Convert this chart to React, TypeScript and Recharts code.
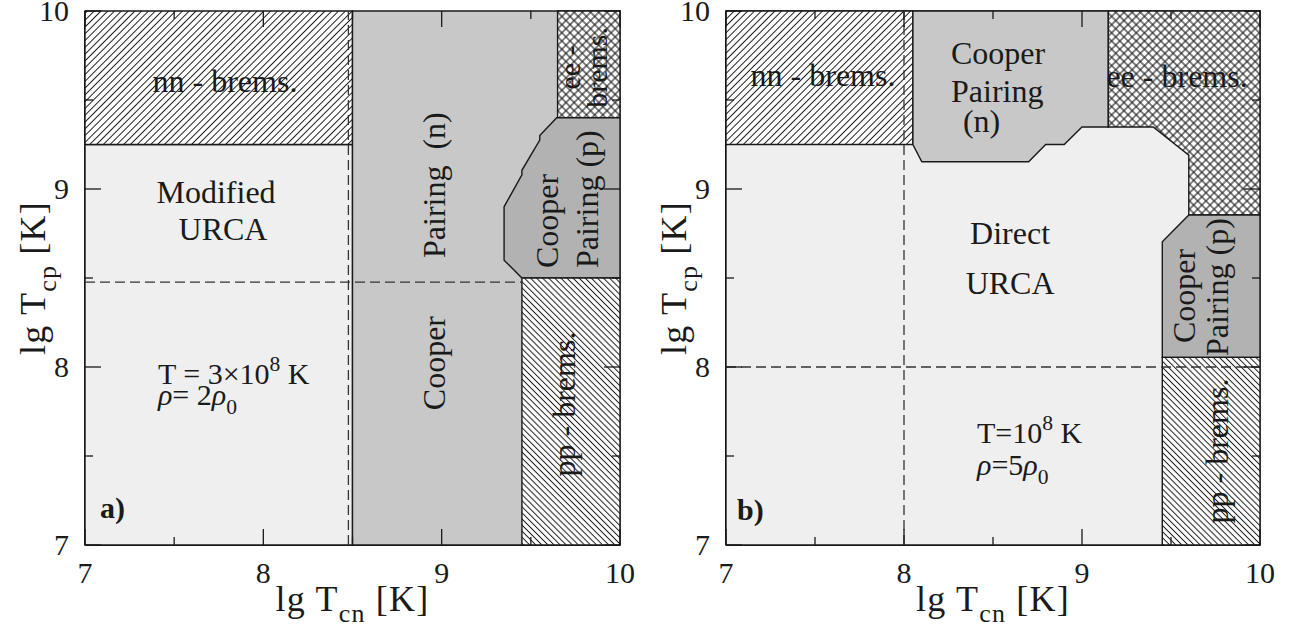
import React from 'react';
import { Scatter, ScatterChart, XAxis, YAxis } from 'recharts';

type Pt = [number, number];
type Note = {
  x: number;
  y: number;
  text: string;
  rot?: number;
  anchor?: 'start' | 'middle' | 'end';
  size?: number;
  bold?: boolean;
};

// axis range and ticks (lg T, K)
const LO = 7;
const HI = 10;
const MAJOR_TICKS = [7, 8, 9, 10];
const MINOR_TICKS = [7.5, 8.5, 9.5];

// panel a) T = 3e8 K, rho = 2 rho0 : region outlines in (lg Tcn, lg Tcp)
const A_URCA: Pt[] = [[7, 7], [8.5, 7], [8.5, 9.25], [7, 9.25]];
const A_NN_BREMS: Pt[] = [[7, 9.25], [8.5, 9.25], [8.5, 10], [7, 10]];
const A_COOPER_N: Pt[] = [[8.5, 7], [10, 7], [10, 10], [8.5, 10]];
const A_EE_BREMS: Pt[] = [[9.65, 9.4], [10, 9.4], [10, 10], [9.65, 10]];
const A_COOPER_P: Pt[] = [
  [9.45, 8.5], [10, 8.5], [10, 9.4], [9.645, 9.4], [9.55, 9.3], [9.55, 9.275],
  [9.45, 9.105], [9.45, 9.08], [9.35, 8.9], [9.35, 8.6],
];
const A_PP_BREMS: Pt[] = [[9.45, 7], [10, 7], [10, 8.5], [9.45, 8.5]];
const A_DASH_N: Pt[] = [[8.477, 7], [8.477, 10]];
const A_DASH_P: Pt[] = [[7, 8.477], [9.45, 8.477]];

// panel b) T = 1e8 K, rho = 5 rho0
const B_URCA: Pt[] = [[7, 7], [10, 7], [10, 10], [7, 10]];
const B_NN_BREMS: Pt[] = [[7, 9.25], [8.05, 9.25], [8.05, 10], [7, 10]];
const B_COOPER_N: Pt[] = [
  [8.05, 10], [8.05, 9.25], [8.1, 9.153], [8.7, 9.153], [8.796, 9.25],
  [8.9, 9.25], [9.0, 9.348], [9.148, 9.348], [9.148, 10],
];
const B_EE_BREMS: Pt[] = [
  [9.148, 10], [10, 10], [10, 8.854], [9.6, 8.854], [9.6, 9.19], [9.4, 9.348], [9.148, 9.348],
];
const B_COOPER_P: Pt[] = [[9.6, 8.854], [10, 8.854], [10, 8.054], [9.451, 8.054], [9.451, 8.704]];
const B_PP_BREMS: Pt[] = [[9.451, 7], [10, 7], [10, 8.054], [9.451, 8.054]];
const B_DASH_N: Pt[] = [[8, 7], [8, 10]];
const B_DASH_P: Pt[] = [[7, 8], [10, 8]];

const A_NOTES: Note[] = [
  { x: 7.785, y: 9.545, text: 'nn - brems.' },
  { x: 7.735, y: 8.921, text: 'Modified' },
  { x: 7.774, y: 8.713, text: 'URCA' },
  { x: 9.02, y: 9.022, text: 'Pairing  (n)', rot: -90 },
  { x: 9.02, y: 8.022, text: 'Cooper', rot: -90 },
  { x: 9.653, y: 8.556, text: 'Cooper', rot: -90, anchor: 'start' },
  { x: 9.877, y: 8.556, text: 'Pairing (p)', rot: -90, anchor: 'start' },
  { x: 9.776, y: 9.683, text: 'ee -', rot: -90, size: 30 },
  { x: 9.928, y: 9.683, text: 'brems.', rot: -90, size: 30 },
  { x: 9.748, y: 7.792, text: 'pp - brems.', rot: -90 },
  { x: 7.409, y: 7.904, text: 'T = 3×10^{8} K', anchor: 'start', size: 30 },
  { x: 7.409, y: 7.787, text: '*ρ*= 2*ρ*_{0}', anchor: 'start', size: 30 },
  { x: 7.084, y: 7.152, text: 'a)', anchor: 'start', size: 30, bold: true },
];

const B_NOTES: Note[] = [
  { x: 7.545, y: 9.579, text: 'nn - brems.' },
  { x: 8.264, y: 9.702, text: 'Cooper', anchor: 'start' },
  { x: 8.264, y: 9.489, text: 'Pairing', anchor: 'start' },
  { x: 8.331, y: 9.32, text: '(n)', anchor: 'start' },
  { x: 9.534, y: 9.573, text: 'ee - brems.' },
  { x: 8.596, y: 8.691, text: 'Direct' },
  { x: 8.596, y: 8.41, text: 'URCA' },
  { x: 9.635, y: 8.399, text: 'Cooper', rot: -90 },
  { x: 9.82, y: 8.449, text: 'Pairing (p)', rot: -90 },
  { x: 9.82, y: 7.528, text: 'pp - brems.', rot: -90 },
  { x: 8.41, y: 7.573, text: 'T=10^{8} K', anchor: 'start', size: 30 },
  { x: 8.41, y: 7.393, text: '*ρ*=5*ρ*_{0}', anchor: 'start', size: 30 },
  { x: 7.062, y: 7.14, text: 'b)', anchor: 'start', size: 30, bold: true },
];

const SERIF = '"Liberation Serif", "Times New Roman", serif';
const INK = '#1a1a1a';
const LIGHT = '#efefef';
const GREY_N = '#c8c8c8';
const GREY_P = '#b2b2b2';

const toXY = (pts: Pt[]) => pts.map(([x, y]) => ({ x, y }));
const hidden = () => <g />;

// tiny markup: ^{sup} _{sub} *italic*
function rich(src: string, size: number) {
  const tokens = src.split(/(\^\{[^}]*\}|_\{[^}]*\}|\*[^*]*\*)/).filter(Boolean);
  let shift = 0;
  return tokens.map((tok, i) => {
    let t = tok;
    let dy = -shift;
    let fs: number | undefined;
    let italic = false;
    if (tok.startsWith('^{')) {
      t = tok.slice(2, -1);
      dy = -0.42 * size - shift;
      shift = -0.42 * size;
      fs = 0.72 * size;
    } else if (tok.startsWith('_{')) {
      t = tok.slice(2, -1);
      dy = 0.3 * size - shift;
      shift = 0.3 * size;
      fs = 0.72 * size;
    } else {
      if (tok.startsWith('*')) {
        t = tok.slice(1, -1);
        italic = true;
      }
      shift = 0;
    }
    return (
      <tspan key={i} dy={dy || undefined} fontSize={fs} fontStyle={italic ? 'italic' : undefined}>
        {t}
      </tspan>
    );
  });
}

const NoteShape = (p: any) => {
  const n: Note = p.payload;
  const size = n.size ?? 32;
  return (
    <text
      x={p.cx}
      y={p.cy}
      transform={n.rot ? `rotate(${n.rot} ${p.cx} ${p.cy})` : undefined}
      textAnchor={n.anchor ?? 'middle'}
      fontFamily={SERIF}
      fontSize={size}
      fontWeight={n.bold ? 700 : 400}
      fill={INK}
      style={{ whiteSpace: 'pre' }}
    >
      {rich(n.text, size)}
    </text>
  );
};

const polygonLine = (fill: string) => (p: any) => (
  <polygon
    points={p.points.map((q: any) => `${q.x},${q.y}`).join(' ')}
    fill={fill}
    stroke={INK}
    strokeWidth={1.4}
  />
);

const dashLine = (p: any) => (
  <polyline
    points={p.points.map((q: any) => `${q.x},${q.y}`).join(' ')}
    fill="none"
    stroke="#333"
    strokeWidth={1.3}
    strokeDasharray="10 5"
  />
);

// inward tick marks, anchored at axis values on the frame
const tickMark = (dx: number, dy: number) => (p: any) => (
  <line x1={p.cx} y1={p.cy} x2={p.cx + dx} y2={p.cy + dy} stroke={INK} strokeWidth={1.3} />
);

const TICK_FONT = 30;

const xTick = (p: any) => (
  <text x={p.x} y={p.y} dy={0.71 * TICK_FONT} textAnchor="middle" fontFamily={SERIF} fontSize={TICK_FONT} fill={INK}>
    {p.payload.value}
  </text>
);

const yTick = (p: any) => (
  <text x={p.x} y={p.y} dy={0.34 * TICK_FONT} textAnchor="end" fontFamily={SERIF} fontSize={TICK_FONT} fill={INK}>
    {p.payload.value}
  </text>
);

const TITLE_FONT = 36;

const xTitle = (p: any) => {
  const vb = p.viewBox;
  return (
    <text x={vb.x + vb.width / 2} y={vb.y + 66} textAnchor="middle" fontFamily={SERIF} fontSize={TITLE_FONT}
      letterSpacing={1.2} fill={INK} style={{ whiteSpace: 'pre' }}>
      {rich('lg T_{cn} [K]', TITLE_FONT)}
    </text>
  );
};

const yTitle = (p: any) => {
  const vb = p.viewBox;
  const cx = vb.x + vb.width - 40;
  const cy = vb.y + vb.height / 2;
  return (
    <text x={cx} y={cy} transform={`rotate(-90 ${cx} ${cy})`} textAnchor="middle" fontFamily={SERIF} fontSize={TITLE_FONT}
      letterSpacing={1.2} fill={INK} style={{ whiteSpace: 'pre' }}>
      {rich('lg T_{cp} [K]', TITLE_FONT)}
    </text>
  );
};

type Region = { pts: Pt[]; fill: string };

type PanelProps = {
  pid: string;
  width: number;
  margin: { top: number; right: number; bottom: number; left: number };
  regions: Region[];
  dashes: Pt[][];
  notes: Note[];
};

const frame = { stroke: INK, strokeWidth: 2 };

const Panel = ({ pid, width, margin, regions, dashes, notes }: PanelProps) => {
  const edges = [
    { vals: MAJOR_TICKS, len: 16 },
    { vals: MINOR_TICKS, len: 8 },
  ];
  return (
    <ScatterChart width={width} height={635} margin={margin}>
      <defs>
        <pattern id={`${pid}-fwd`} patternUnits="userSpaceOnUse" width={4.8} height={4.8} patternTransform="rotate(45)">
          <rect width={4.8} height={4.8} fill="#fff" />
          <line x1={2.4} y1={0} x2={2.4} y2={4.8} stroke={INK} strokeWidth={1} />
        </pattern>
        <pattern id={`${pid}-back`} patternUnits="userSpaceOnUse" width={4.3} height={4.3} patternTransform="rotate(-45)">
          <rect width={4.3} height={4.3} fill="#fff" />
          <line x1={2.15} y1={0} x2={2.15} y2={4.3} stroke={INK} strokeWidth={1} />
        </pattern>
        <pattern id={`${pid}-cross`} patternUnits="userSpaceOnUse" width={5.8} height={5.8} patternTransform="rotate(45)">
          <rect width={5.8} height={5.8} fill="#fff" />
          <line x1={2.9} y1={0} x2={2.9} y2={5.8} stroke={INK} strokeWidth={1.1} />
          <line x1={0} y1={2.9} x2={5.8} y2={2.9} stroke={INK} strokeWidth={1.1} />
        </pattern>
      </defs>

      <XAxis type="number" dataKey="x" domain={[LO, HI]} ticks={MAJOR_TICKS} interval={0} height={1}
        tickLine={false} tickSize={1} tickMargin={16} tick={xTick} axisLine={frame} label={xTitle} />
      <YAxis type="number" dataKey="y" domain={[LO, HI]} ticks={MAJOR_TICKS} interval={0} width={1}
        tickLine={false} tickSize={1} tickMargin={15} tick={yTick} axisLine={frame} label={yTitle} />

      {regions.map((r, i) => (
        <Scatter key={`r${i}`} data={toXY(r.pts)} isAnimationActive={false} shape={hidden} line={polygonLine(r.fill)} legendType="none" />
      ))}
      {dashes.map((d, i) => (
        <Scatter key={`d${i}`} data={toXY(d)} isAnimationActive={false} shape={hidden} line={dashLine} legendType="none" />
      ))}
      {edges.map((e, i) => [
        <Scatter key={`tb${i}`} data={e.vals.map((v) => ({ x: v, y: LO }))} isAnimationActive={false} shape={tickMark(0, -e.len)} legendType="none" />,
        <Scatter key={`tt${i}`} data={e.vals.map((v) => ({ x: v, y: HI }))} isAnimationActive={false} shape={tickMark(0, e.len)} legendType="none" />,
        <Scatter key={`tl${i}`} data={e.vals.map((v) => ({ x: LO, y: v }))} isAnimationActive={false} shape={tickMark(e.len, 0)} legendType="none" />,
        <Scatter key={`tr${i}`} data={e.vals.map((v) => ({ x: HI, y: v }))} isAnimationActive={false} shape={tickMark(-e.len, 0)} legendType="none" />,
      ])}
      <Scatter data={notes} isAnimationActive={false} shape={NoteShape} legendType="none" />
    </ScatterChart>
  );
};

const patternFill = (pid: string, kind: 'fwd' | 'back' | 'cross') => `url(#${pid}-${kind})`;

export default function App() {
  const aRegions: Region[] = [
    { pts: A_URCA, fill: LIGHT },
    { pts: A_NN_BREMS, fill: patternFill('pa', 'fwd') },
    { pts: A_COOPER_N, fill: GREY_N },
    { pts: A_EE_BREMS, fill: patternFill('pa', 'cross') },
    { pts: A_COOPER_P, fill: GREY_P },
    { pts: A_PP_BREMS, fill: patternFill('pa', 'back') },
  ];
  const bRegions: Region[] = [
    { pts: B_URCA, fill: LIGHT },
    { pts: B_NN_BREMS, fill: patternFill('pb', 'fwd') },
    { pts: B_COOPER_N, fill: GREY_N },
    { pts: B_EE_BREMS, fill: patternFill('pb', 'cross') },
    { pts: B_COOPER_P, fill: GREY_P },
    { pts: B_PP_BREMS, fill: patternFill('pb', 'back') },
  ];
  return (
    <div style={{ position: 'absolute', left: 0, top: 0, width: 1289, height: 635, background: '#fff' }}>
      <div style={{ position: 'absolute', left: 0, top: 0 }}>
        <Panel pid="pa" width={640} margin={{ top: 11, right: 20, bottom: 89, left: 84 }}
          regions={aRegions} dashes={[A_DASH_N, A_DASH_P]} notes={A_NOTES} />
      </div>
      <div style={{ position: 'absolute', left: 640, top: 0 }}>
        <Panel pid="pb" width={649} margin={{ top: 11, right: 29, bottom: 89, left: 85 }}
          regions={bRegions} dashes={[B_DASH_N, B_DASH_P]} notes={B_NOTES} />
      </div>
    </div>
  );
}
